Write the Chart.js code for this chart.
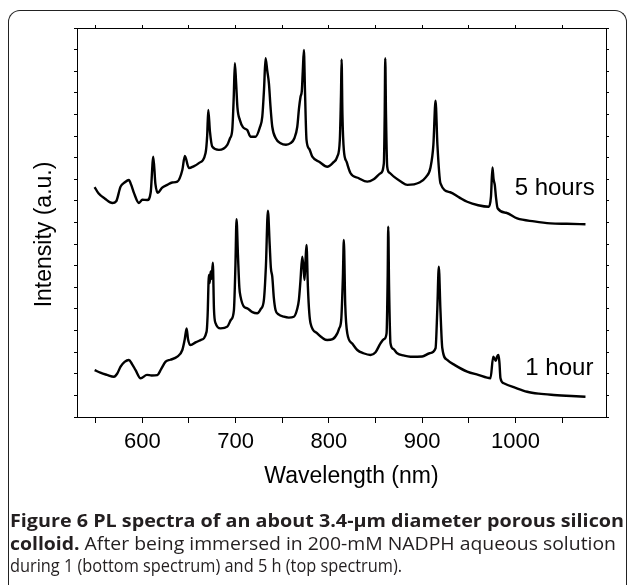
<!DOCTYPE html>
<html>
<head>
<meta charset="utf-8">
<script src="https://cdn.jsdelivr.net/npm/chart.js@4.4.1/dist/chart.umd.min.js"></script>
<style>
  html, body { margin: 0; padding: 0; background: #fff; }
  #page { position: relative; width: 627px; height: 585px; overflow: hidden; }
  #frame { position: absolute; left: 8px; top: 10px; width: 619px; height: 600px; box-sizing: border-box;
           border: 1.5px solid #222; border-bottom: none; border-radius: 12px 12px 0 0; }
  #chartBox { position: absolute; left: 0; top: 0; width: 627px; height: 510px; }
  #caption { position: absolute; left: 10px; top: 509px; font-family: "Open Sans", sans-serif; font-size: 18px;
             line-height: 22.5px; color: #231f20; white-space: nowrap; }
  #caption .line { display: inline-block; transform-origin: 0 50%; }
  #caption b { font-weight: 700; }
</style>
</head>
<body>
<div id="page">
  <div id="frame"></div>
  <div id="chartBox"><canvas id="plChart" width="627" height="510"></canvas></div>
  <div id="caption"><span class="line" data-w="614"><b>Figure 6 PL spectra of an about 3.4-μm diameter porous silicon</b></span><br><span class="line" data-w="606"><b>colloid.</b> After being immersed in 200-mM NADPH aqueous solution</span><br><span class="line" data-w="392">during 1 (bottom spectrum) and 5 h (top spectrum).</span></div>
</div>
<script>
// spectra (wavelength in nm, intensity in arbitrary units)
const wavelength5h = [548.9, 553, 560, 567.9, 572, 576.7, 581, 585.6, 588, 591, 596.4, 600, 605.4, 609, 611.8, 614, 616.7,
  621, 626.8, 632, 637.5, 642.9, 645.6, 649.9, 655, 660.6, 667.8, 669.5, 670.7, 672.5, 675, 682.1, 691.1, 694, 696.4,
  698, 699.2, 700.5, 702, 704.6, 708, 712.5, 716, 721.4, 726, 728.6, 730.5, 732.1, 734, 735.7, 737.5, 739.3, 743, 748.2,
  754, 758.9, 763, 766.1, 768, 769.6, 771, 772, 773.2, 774.3, 776, 779, 782.2, 790, 798.2, 804, 809, 811.7, 813, 813.6,
  814.5, 816, 819, 823.2, 832, 841.1, 848, 855.3, 858.9, 859.8, 860.4, 861.2, 862.5, 865, 869.6, 877, 884, 897, 904,
  908.9, 912, 914.3, 916.3, 919.6, 930, 940, 948.2, 960, 971.4, 973.7, 975.3, 976.5, 977.8, 979, 980.8, 990, 1001.8,
  1020, 1037.5, 1055, 1075];
const intensity5h = [10.64, 10.35, 10.10, 9.90, 9.98, 10.66, 10.85, 10.97, 10.75, 10.37, 9.90, 10.05, 10.04, 10.40, 12.05,
  10.80, 10.37, 10.60, 10.74, 10.85, 10.89, 11.43, 12.08, 11.52, 11.60, 11.75, 12.22, 13.00, 14.21, 13.20, 12.51, 12.36,
  12.59, 12.90, 13.28, 14.80, 16.37, 15.50, 14.30, 13.74, 13.40, 13.28, 12.97, 12.97, 13.40, 13.90, 15.20, 16.60, 16.00,
  15.44, 14.30, 13.43, 12.90, 12.67, 12.60, 12.67, 12.90, 13.43, 14.30, 14.82, 15.10, 16.00, 16.98, 15.20, 12.82, 12.40,
  12.05, 11.80, 11.58, 11.75, 12.05, 12.82, 15.00, 16.55, 14.00, 12.36, 11.80, 11.28, 11.05, 10.89, 11.00, 11.28, 11.74,
  14.00, 16.60, 14.00, 11.58, 11.30, 11.12, 10.90, 10.74, 10.85, 11.10, 11.55, 12.60, 14.64, 12.60, 10.81, 10.40, 10.15,
  9.96, 9.80, 9.73, 10.20, 11.55, 11.00, 10.74, 10.20, 9.66, 9.45, 9.19, 9.05, 8.96, 8.94, 8.92];

const wavelength1h = [548.9, 555, 562, 569.6, 573, 576.7, 581, 585.6, 589, 592.8, 598.2, 605, 610, 616.1, 620, 625, 630,
  637.5, 642.9, 645.5, 647.5, 649, 651.8, 657, 662.5, 668.9, 670, 671.4, 672.3, 673.2, 674.3, 675.6, 676.8, 678.5, 683.9,
  691.1, 695, 698.2, 699.8, 701, 702.5, 704, 705.3, 709, 712.5, 718, 723.2, 727, 730.3, 732.5, 734.6, 736.5, 737.8, 739.3,
  741, 742.8, 746, 751.7, 757, 762.4, 766, 767.8, 769.5, 771.4, 772.8, 773.9, 775, 776, 777.5, 779, 780.3, 787.5, 798.2,
  804, 809, 811, 813.2, 815, 816, 817.5, 819.7, 825, 830.4, 837, 844.6, 850, 855.3, 859, 861.8, 863, 863.6, 864.5, 866,
  869, 873.2, 880, 887.5, 900, 908, 914.3, 916.2, 917.8, 919.5, 921.5, 926.8, 935, 948.2, 960, 973.2, 976.1, 977.5, 978.9,
  980.3, 981.8, 982.8, 983.9, 987.5, 1000, 1012.5, 1025, 1041, 1060, 1075];
const intensity1h = [2.17, 2.05, 1.95, 1.86, 2.00, 2.33, 2.55, 2.64, 2.45, 2.17, 1.79, 1.95, 1.92, 1.94, 2.20, 2.56, 2.65,
  2.79, 3.10, 3.60, 4.10, 3.60, 3.33, 3.45, 3.56, 3.95, 4.70, 6.57, 6.20, 6.74, 6.40, 7.14, 5.00, 4.34, 4.10,
  4.18, 4.50, 4.95, 7.00, 9.15, 7.50, 6.00, 5.57, 5.10, 5.03, 4.85, 4.80, 5.00, 5.41, 7.00, 9.55, 8.00, 6.90, 6.49,
  5.50, 4.95, 4.75, 4.64, 4.60, 4.64, 5.00, 5.41, 6.30, 7.42, 6.90, 6.34, 7.30, 7.96, 6.00, 4.80, 4.34, 3.87, 3.56,
  3.60, 3.87, 4.10, 4.49, 6.50, 8.19, 5.20, 3.87, 3.40, 3.10, 2.95, 2.87, 3.00, 3.41, 3.60, 3.87, 6.50, 8.81, 6.00, 3.41,
  3.15, 2.95, 2.85, 2.79, 2.80, 2.95, 3.18, 5.00, 6.96, 5.00, 3.20, 2.64, 2.40, 2.10, 1.95, 1.79, 2.79, 2.70, 2.60,
  2.80, 2.87, 2.50, 1.79, 1.56, 1.35, 1.17, 1.08, 1.02, 0.97, 0.94];

const seriesNames = ['5 hours', '1 hour'];
const nameWavelength = [1042, 1047];
const nameIntensity = [10.6, 2.27];

const xTicks = [550, 600, 650, 700, 750, 800, 850, 900, 950, 1000, 1050];
const yTicks = [0, 1, 2, 3, 4, 5, 6, 7, 8, 9, 10, 11, 12, 13, 14, 15, 16, 17, 18];
const xTitle = 'Wavelength (nm)';
const yTitle = 'Intensity (a.u.)';

const toPoints = (xs, ys) => xs.map((x, i) => ({ x: x, y: ys[i] }));

const axisFont = '"Liberation Sans", Arial, sans-serif';

function frameAxis(position, ticks, size, tickLen) {
    const horizontal = position === 'top' || position === 'bottom';
    return {
        type: 'linear',
        position: position,
        min: horizontal ? 530 : 0,
        max: horizontal ? 1097 : 18,
        afterBuildTicks: s => { s.ticks = ticks.map(v => ({ value: v })); },
        afterFit: s => { if (horizontal) s.height = size; else s.width = size; },
        ticks: { display: false },
        grid: { drawOnChartArea: false, drawTicks: true, tickLength: tickLen, color: '#000', lineWidth: 1 },
        border: { display: true, color: '#000', width: 1 }
    };
}

const xAxis = frameAxis('bottom', xTicks, 93, 6);
xAxis.ticks = {
    display: true,
    autoSkip: false,
    maxRotation: 0,
    padding: 6,
    color: '#000',
    font: { family: axisFont, size: 22 },
    callback: v => (v % 100 === 0 ? String(v) : '')
};

const textPlugin = {
    id: 'texts',
    afterDraw(chart) {
        const { ctx, chartArea, scales } = chart;
        ctx.save();
        ctx.fillStyle = '#000';
        ctx.textAlign = 'center';
        ctx.textBaseline = 'middle';
        ctx.font = '23px ' + axisFont;
        ctx.fillText(xTitle, (chartArea.left + chartArea.right) / 2 + 10, chartArea.bottom + 60);
        ctx.save();
        ctx.translate(45, (chartArea.top + chartArea.bottom) / 2 + 12);
        ctx.rotate(-Math.PI / 2);
        ctx.fillText(yTitle, 0, 0);
        ctx.restore();
        ctx.font = '24px ' + axisFont;
        seriesNames.forEach((name, i) => {
            ctx.fillText(name, scales.x.getPixelForValue(nameWavelength[i]), scales.y.getPixelForValue(nameIntensity[i]));
        });
        ctx.restore();
    }
};

const lineStyle = {
    borderColor: '#000',
    borderWidth: 2.4,
    pointRadius: 0,
    cubicInterpolationMode: 'monotone',
    fill: false
};

const ctx = document.getElementById('plChart').getContext('2d');
const plChart = new Chart(ctx, {
    type: 'line',
    data: {
        datasets: [
            Object.assign({ label: seriesNames[0], data: toPoints(wavelength5h, intensity5h) }, lineStyle),
            Object.assign({ label: seriesNames[1], data: toPoints(wavelength1h, intensity1h) }, lineStyle)
        ]
    },
    options: {
        responsive: false,
        animation: false,
        devicePixelRatio: 1,
        layout: { padding: 0 },
        scales: {
            x: xAxis,
            x2: frameAxis('top', xTicks, 28, 3),
            y: frameAxis('left', yTicks, 77, 3),
            y2: frameAxis('right', yTicks, 21, 3)
        },
        plugins: {
            legend: { display: false },
            tooltip: { enabled: false }
        }
    },
    plugins: [textPlugin]
});

// stretch each caption line to the width it has in the figure
function fitCaption() {
    document.querySelectorAll('#caption .line').forEach(el => {
        el.style.transform = 'none';
        const w = el.getBoundingClientRect().width;
        el.style.transform = 'scaleX(' + (Number(el.dataset.w) / w) + ')';
    });
}
fitCaption();
if (document.fonts) document.fonts.ready.then(fitCaption);
</script>
</body>
</html>
